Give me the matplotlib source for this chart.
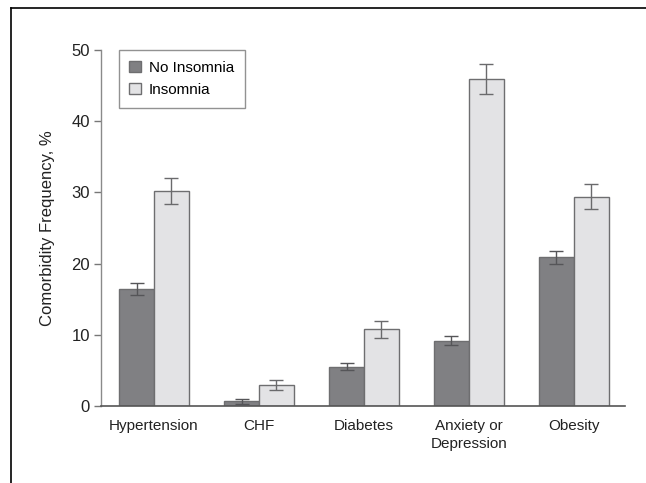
import matplotlib
matplotlib.use("Agg")
import matplotlib.pyplot as plt
import numpy as np
from matplotlib.lines import Line2D

plt.rcParams['font.family'] = ['Liberation Sans', 'DejaVu Sans']

# data
categories = ['Hypertension', 'CHF', 'Diabetes', 'Anxiety or\nDepression', 'Obesity']
no_insomnia = [16.45, 0.65, 5.5, 9.2, 20.9]
no_insomnia_err = [0.85, 0.3, 0.5, 0.7, 0.93]
insomnia = [30.2, 2.95, 10.75, 45.9, 29.4]
insomnia_err = [1.85, 0.7, 1.2, 2.1, 1.8]
yticks = [0, 10, 20, 30, 40, 50]

dark = '#808083'
light = '#e3e3e5'
edge = '#6e6e70'

fig = plt.figure(figsize=(6.46, 4.83), dpi=100)
ax = fig.add_axes([0.1563, 0.1594, 0.8112, 0.7371])

x = np.arange(len(categories))
w = 0.333
ax.bar(x - w / 2, no_insomnia, w, color=dark, edgecolor=edge, linewidth=1.0,
       label='No Insomnia', zorder=2)
ax.bar(x + w / 2, insomnia, w, color=light, edgecolor=edge, linewidth=1.0,
       label='Insomnia', zorder=2)
ax.errorbar(x - w / 2, no_insomnia, yerr=no_insomnia_err, fmt='none',
            ecolor='#555558', elinewidth=1.0, capsize=5, capthick=1.0, zorder=3)
ax.errorbar(x + w / 2, insomnia, yerr=insomnia_err, fmt='none',
            ecolor='#6a6a6c', elinewidth=1.0, capsize=5, capthick=1.0, zorder=3)

ax.set_xlim(-0.505, 4.486)
ax.set_ylim(0, 50)
ax.set_yticks(yticks)
ax.set_xticks(x)
ax.set_xticklabels(categories, fontsize=11, color='#222222', linespacing=1.45)
ax.tick_params(axis='x', length=0, pad=9)
ax.tick_params(axis='y', length=5, width=1, color='#777777', labelsize=12,
               labelcolor='#222222', pad=3)
ax.set_ylabel('Comorbidity Frequency, %', fontsize=12, color='#222222', labelpad=12)

for s in ['top', 'right']:
    ax.spines[s].set_visible(False)
ax.spines['left'].set_color('#8a8a8a')
ax.spines['bottom'].set_color('#555555')
ax.spines['left'].set_linewidth(1.0)
ax.spines['bottom'].set_linewidth(1.2)

leg = ax.legend(loc='upper left', bbox_to_anchor=(0.034, 1.0), fontsize=11,
                frameon=True, fancybox=False, edgecolor='#777777',
                handlelength=0.75, handleheight=0.75, handletextpad=0.5,
                borderpad=0.7, labelspacing=0.55, borderaxespad=0)
leg.get_frame().set_linewidth(1.0)

# partial frame around the figure
fig.add_artist(Line2D([11 / 646, 11 / 646], [0, 1 - 8 / 483], color='black', lw=1.2))
fig.add_artist(Line2D([11 / 646, 1], [1 - 8 / 483, 1 - 8 / 483], color='black', lw=1.2))

fig.savefig('out.png', dpi=100)
